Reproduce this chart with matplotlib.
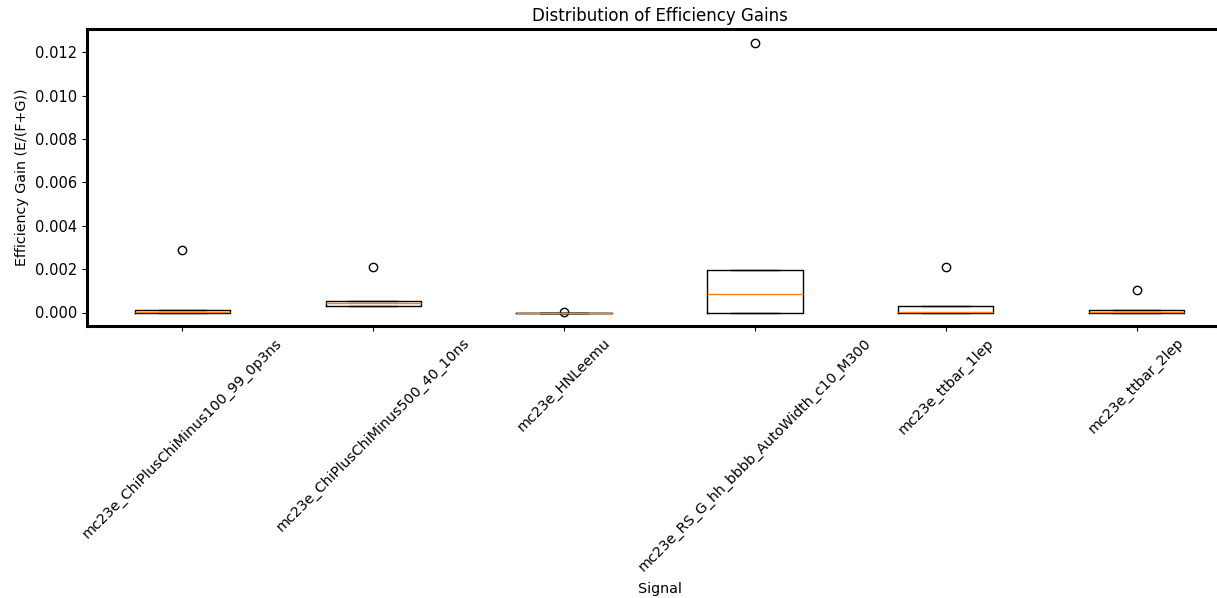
import matplotlib
matplotlib.use("Agg")
import matplotlib.pyplot as plt

# Efficiency gain samples per signal sample
signals = [
    "mc23e_ChiPlusChiMinus100_99_0p3ns",
    "mc23e_ChiPlusChiMinus500_40_10ns",
    "mc23e_HNLeemu",
    "mc23e_RS_G_hh_bbbb_AutoWidth_c10_M300",
    "mc23e_ttbar_1lep",
    "mc23e_ttbar_2lep",
]
gain_chi100 = [0.0, 0.0, 0.00002, 0.00010, 0.00286]
gain_chi500 = [0.00028, 0.00032, 0.00044, 0.00054, 0.00208]
gain_hnl = [0.0, 0.0, 0.0, 0.0, 0.000001]
gain_rsg = [0.0, 0.0, 0.00086, 0.00194, 0.01245]
gain_tt1 = [0.0, 0.0, 0.00003, 0.00028, 0.00212]
gain_tt2 = [0.0, 0.0, 0.00004, 0.00013, 0.00102]

data = [gain_chi100, gain_chi500, gain_hnl, gain_rsg, gain_tt1, gain_tt2]

W, H = 1217, 598
fig = plt.figure(figsize=(W / 100, H / 100), dpi=100)
ax = fig.add_axes([87 / W, 1 - 326 / H, 1145 / W, (326 - 29) / H])

ax.boxplot(data)
ax.set_xticks(range(1, len(signals) + 1))
ax.set_xticklabels(signals, rotation=45, fontsize=10.3)
ax.tick_params(axis="y", labelsize=10.5)

for s in ax.spines.values():
    s.set_linewidth(2.2)

ax.set_title("Distribution of Efficiency Gains", fontsize=12, pad=6)
ax.set_xlabel("Signal", fontsize=10.3, labelpad=6)
ax.set_ylabel("Efficiency Gain (E/(F+G))", fontsize=10.3)

fig.savefig("out.png", dpi=100)
